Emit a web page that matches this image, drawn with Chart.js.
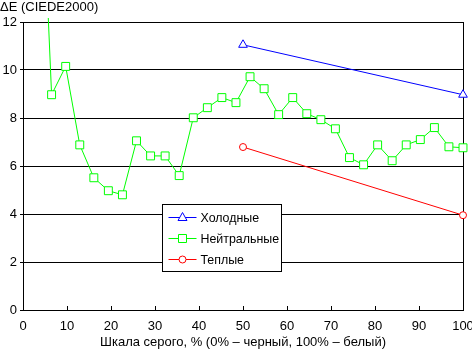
<!DOCTYPE html>
<html>
<head>
<meta charset="utf-8">
<script src="https://cdn.jsdelivr.net/npm/chart.js@4/dist/chart.umd.min.js"></script>
<style>
  body { margin: 0; background: #fff; }
</style>
</head>
<body>
<canvas id="myChart" width="472" height="351"></canvas>
<script>
// grey levels (%) and ΔE values
var grayLevels = [0, 3.2, 6.5, 9.7, 12.9, 16.1, 19.4, 22.6, 25.8, 29.0, 32.3, 35.5, 38.7, 41.9, 45.2, 48.4,
                  51.6, 54.8, 58.1, 61.3, 64.5, 67.7, 71.0, 74.2, 77.4, 80.6, 83.9, 87.1, 90.3, 93.5, 96.8, 100];
var neutralValues = [28, 23, 8.97, 10.15, 6.88, 5.51, 4.97, 4.8, 7.05, 6.42, 6.42, 5.6, 8.01, 8.43, 8.85, 8.64,
                     9.72, 9.22, 8.14, 8.85, 8.18, 7.93, 7.55, 6.35, 6.05, 6.88, 6.22, 6.88, 7.1, 7.6, 6.8, 6.76];
var coldLevels = [50, 100];
var coldValues = [11.05, 8.97];
var warmLevels = [50, 100];
var warmValues = [6.79, 3.95];

var seriesNames = ['Холодные', 'Нейтральные', 'Теплые'];
var yTicks = [0, 2, 4, 6, 8, 10, 12];
var xTicks = [0, 10, 20, 30, 40, 50, 60, 70, 80, 90, 100];

var FONT = '"Liberation Sans", Arial, sans-serif';

function pairs(xs, ys) {
    return xs.map(function (x, i) { return {x: x, y: ys[i]}; });
}

// little upward ticks on the x axis
var xTickMarks = {
    id: 'xTickMarks',
    afterDraw: function (chart) {
        var ctx = chart.ctx, sx = chart.scales.x, a = chart.chartArea;
        ctx.save();
        ctx.strokeStyle = '#000';
        ctx.lineWidth = 1;
        xTicks.forEach(function (v) {
            var px = Math.round(sx.getPixelForValue(v)) + 0.5;
            ctx.beginPath();
            ctx.moveTo(px, a.bottom);
            ctx.lineTo(px, a.bottom - 4);
            ctx.stroke();
        });
        ctx.restore();
    }
};

// boxed legend inside the plot
var boxLegend = {
    id: 'boxLegend',
    afterDraw: function (chart) {
        var ctx = chart.ctx, a = chart.chartArea;
        var x0 = Math.round(a.left + 139) + 0.5, y0 = Math.round(a.top + 182) + 0.5;
        ctx.save();
        ctx.fillStyle = '#fff';
        ctx.fillRect(x0, y0, 119, 67);
        ctx.strokeStyle = '#000';
        ctx.lineWidth = 1;
        ctx.strokeRect(x0, y0, 119, 67);
        ctx.font = '12.4px ' + FONT;
        ctx.textBaseline = 'middle';
        chart.data.datasets.forEach(function (ds, i) {
            var y = y0 + 13 + i * 21;
            var cx = x0 + 20;
            ctx.strokeStyle = ds.borderColor;
            ctx.beginPath();
            ctx.moveTo(x0 + 6, y);
            ctx.lineTo(x0 + 34, y);
            ctx.stroke();
            ctx.fillStyle = '#fff';
            ctx.beginPath();
            if (ds.pointStyle === 'triangle') {
                ctx.moveTo(cx, y - 5);
                ctx.lineTo(cx + 4.5, y + 3);
                ctx.lineTo(cx - 4.5, y + 3);
                ctx.closePath();
            } else if (ds.pointStyle === 'rect') {
                ctx.rect(cx - 4, y - 4, 8, 8);
            } else {
                ctx.arc(cx, y, 3.5, 0, Math.PI * 2);
            }
            ctx.fill();
            ctx.stroke();
            ctx.fillStyle = '#000';
            ctx.fillText(ds.label, x0 + 38, y + 1);
        });
        ctx.restore();
    }
};

var myChart = document.getElementById('myChart').getContext('2d');

var allChart = new Chart(myChart, {
    type: 'line',
    data: {
        datasets: [{
            label: seriesNames[0],
            data: pairs(coldLevels, coldValues),
            borderColor: '#0000ff',
            backgroundColor: '#fff',
            borderWidth: 1,
            pointStyle: 'triangle',
            pointRadius: 5,
            pointBorderWidth: 1,
            clip: {left: 0, top: 4, right: 6, bottom: 0}
        }, {
            label: seriesNames[1],
            data: pairs(grayLevels, neutralValues),
            borderColor: '#00ff00',
            backgroundColor: '#fff',
            borderWidth: 1,
            pointStyle: 'rect',
            pointRadius: 5.6,
            pointBorderWidth: 1,
            clip: {left: 0, top: 4, right: 6, bottom: 0}
        }, {
            label: seriesNames[2],
            data: pairs(warmLevels, warmValues),
            borderColor: '#ff0000',
            backgroundColor: '#fff',
            borderWidth: 1,
            pointStyle: 'circle',
            pointRadius: 3.5,
            pointBorderWidth: 1,
            clip: {left: 0, top: 4, right: 6, bottom: 0}
        }]
    },
    options: {
        responsive: false,
        animation: false,
        events: [],
        layout: {padding: {left: 0, right: 9, top: 0, bottom: 0}},
        elements: {line: {tension: 0}},
        scales: {
            x: {
                type: 'linear',
                min: 0,
                max: 100,
                afterBuildTicks: function (s) { s.ticks = xTicks.map(function (v) { return {value: v}; }); },
                afterFit: function (s) { s.height = 41; s.paddingLeft = 0; s.paddingRight = 0; },
                ticks: {color: '#000', font: {family: FONT, size: 13}, padding: 9, maxRotation: 0, autoSkip: false},
                grid: {
                    drawTicks: false,
                    color: function (c) { return c.tick && c.tick.value === 100 ? '#000' : 'rgba(0,0,0,0)'; }
                },
                border: {display: true, color: '#000'},
                title: {
                    display: true,
                    text: 'Шкала серого, % (0% – черный, 100% – белый)',
                    color: '#000',
                    font: {family: FONT, size: 13},
                    padding: {top: 0, bottom: 1}
                }
            },
            y: {
                min: 0,
                max: 12,
                afterBuildTicks: function (s) { s.ticks = yTicks.map(function (v) { return {value: v}; }); },
                afterFit: function (s) { s.width = 23; },
                ticks: {color: '#000', font: {family: FONT, size: 13}, padding: 3},
                grid: {color: '#000', tickLength: 3},
                border: {display: true, color: '#000'}
            }
        },
        plugins: {
            legend: {display: false},
            tooltip: {enabled: false},
            title: {
                display: true,
                text: 'ΔE (CIEDE2000)',
                align: 'start',
                color: '#000',
                font: {family: FONT, size: 13, weight: 'normal'},
                padding: {top: 0, bottom: 6.4}
            }
        }
    },
    plugins: [xTickMarks, boxLegend]
});
</script>
</body>
</html>
